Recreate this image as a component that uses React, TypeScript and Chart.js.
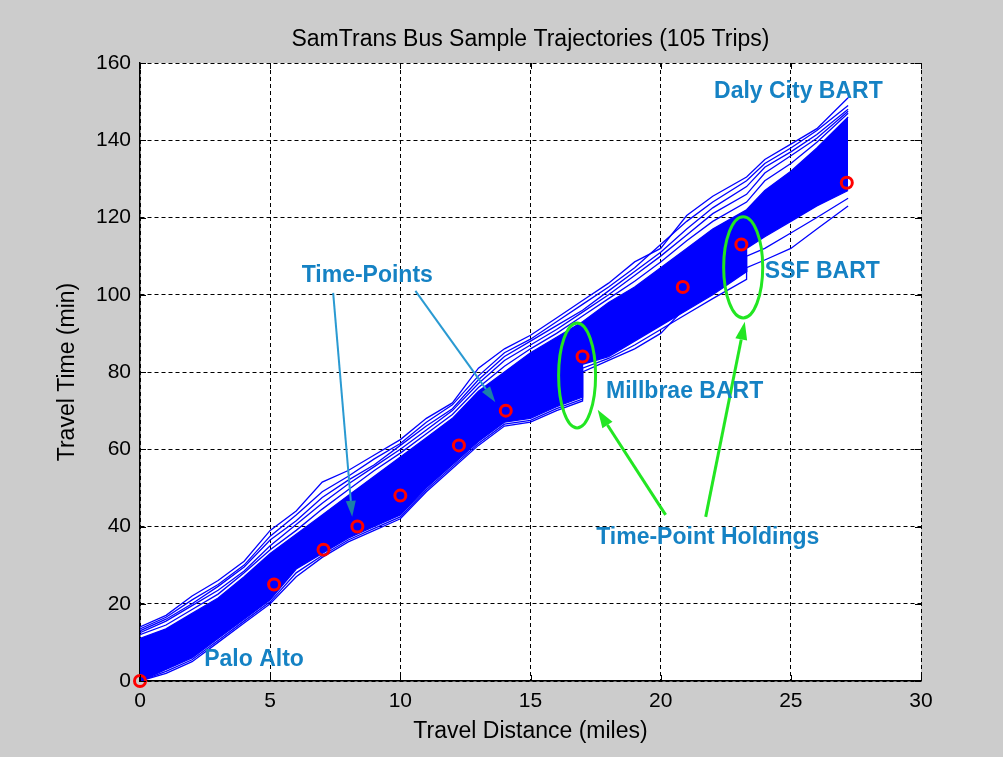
import React, { useEffect, useRef } from "react";
import { Chart, registerables } from "chart.js";

Chart.register(...registerables);

// ---- data ----
const miles = [0, 1, 2, 3, 4, 5, 6, 7, 8, 9, 10, 11, 12, 13, 14, 15, 16, 17, 17, 18, 19, 20, 21, 22, 23.3, 23.3, 24, 25, 26, 27.2];

// dense core of the 105 trajectories (lower / upper envelope)
const coreLower = [0, 3, 6, 11, 16, 21, 29, 33, 37, 40, 43, 50, 56, 62, 67, 68, 71, 73.5, 82, 84, 88, 92, 96, 100, 106, 112, 115, 119, 123, 127];
const coreUpper = [11, 13.5, 17.5, 21.5, 27, 33, 38, 43, 48, 53, 58, 63, 68, 75, 80, 85, 89, 93, 93, 98, 102, 107, 112, 117, 122, 122, 127, 132, 138, 146];

// individual slow trips above the core
const tripSlow1 = [14, 17, 22, 26, 31, 39, 44, 51.5, 54.5, 58.5, 62.5, 68, 72, 81, 86, 89.5, 94, 98.5, 98.5, 103, 108.5, 112, 120.5, 125.5, 130.5, 130.5, 135, 139, 143, 151];
const tripSlow2 = [13.5, 16.5, 21, 25, 30, 37.5, 43, 49, 53, 57.5, 61.5, 67, 71.5, 79, 85, 88.5, 93, 97.5, 97.5, 102, 107, 113, 119, 124, 129.5, 129.5, 134, 138, 142.5, 149];
const tripSlow3 = [13, 16, 20, 24.5, 29.5, 36.5, 41.5, 47.5, 52, 56, 61, 66, 70.5, 78, 84, 88, 92, 96, 96, 101, 106, 111, 117, 122.5, 128, 128, 133, 137, 141.5, 148];
const tripSlow4 = [12.5, 15.5, 19.5, 23.5, 28.5, 35, 40.5, 46, 51, 55.5, 60, 65, 70, 77, 83, 87, 91, 95.5, 95.5, 100, 105, 110, 115.5, 121, 126, 126, 131.5, 136, 140.5, 147.5];
const tripSlow5 = [12, 14.5, 18.5, 22.5, 28, 34, 39, 44.5, 49.5, 54.5, 59, 64, 69, 76, 81.5, 86, 90, 94.5, 94.5, 99, 103.5, 108.5, 114, 119, 124, 124, 129.5, 134, 139.5, 147];

// individual fast trips below the core
const tripFast1 = [0, 2, 5, 10, 15, 20, 27, 32, 36, 39, 42, 49, 55, 61, 66, 67, 70, 72.5, 80, 83, 86, 90, 97, 102, 106, 107, 109, 112, 117, 123];
const tripFast2 = [0, 2.5, 5.5, 10.5, 15.5, 20.5, 28, 32.5, 36.5, 39.5, 42.5, 49.5, 55.5, 61.5, 66.5, 67.5, 70.5, 73, 81, 83.5, 87, 91, 95, 99, 104, 110, 112, 116, 120, 125];

// scheduled time-points (red circles)
const tpMiles = [0, 5.15, 7.05, 8.35, 10.0, 12.25, 14.05, 17.0, 20.85, 23.1, 27.15];
const tpTimes = [0, 25, 34, 40, 48, 61, 70, 84, 102, 113, 129];

// axis ticks
const xTickStep = 5;
const yTickStep = 20;
const xRange = [0, 30];
const yRange = [0, 160];

// annotations (data units)
const labelTexts = ["Time-Points", "Palo Alto", "Daly City BART", "SSF BART", "Millbrae BART", "Time-Point Holdings"];
const labelX = [8.73, 4.38, 25.29, 26.21, 20.92, 21.81];
const labelY = [104.9, 5.4, 152.7, 106.1, 74.8, 37.0];

const blueArrowFromX = [7.42, 10.58];
const blueArrowFromY = [100.5, 101];
const blueArrowToX = [8.15, 13.65];
const blueArrowToY = [42.5, 72.2];

const greenArrowFromX = [20.19, 21.73];
const greenArrowFromY = [43.0, 42.5];
const greenArrowToX = [17.58, 23.23];
const greenArrowToY = [70.2, 93.0];

const ellipseCx = [16.79, 23.17];
const ellipseCy = [79.1, 107.1];
const ellipseRx = [0.71, 0.75];
const ellipseRy = [13.6, 13.1];

const FONT = "'Liberation Sans', Arial, Helvetica, sans-serif";
const BLUE = "#0000ff";
const LABEL_COLOR = "#1582c4";

const pts = (ys: number[]) => miles.map((m, i) => ({ x: m, y: ys[i] }));

function drawArrow(ctx: CanvasRenderingContext2D, x0: number, y0: number, x1: number, y1: number, color: string, headColor: string, width: number, headLen: number, headW: number) {
  const ang = Math.atan2(y1 - y0, x1 - x0);
  const bx = x1 - Math.cos(ang) * headLen;
  const by = y1 - Math.sin(ang) * headLen;
  ctx.save();
  ctx.strokeStyle = color;
  ctx.lineWidth = width;
  ctx.beginPath();
  ctx.moveTo(x0, y0);
  ctx.lineTo(bx, by);
  ctx.stroke();
  ctx.fillStyle = headColor;
  ctx.beginPath();
  ctx.moveTo(x1, y1);
  ctx.lineTo(bx + Math.sin(ang) * headW / 2, by - Math.cos(ang) * headW / 2);
  ctx.lineTo(bx - Math.sin(ang) * headW / 2, by + Math.cos(ang) * headW / 2);
  ctx.closePath();
  ctx.fill();
  ctx.restore();
}

const plotBgPlugin = {
  id: "plotBg",
  beforeDraw(chart: any) {
    const { ctx, chartArea } = chart;
    ctx.save();
    ctx.fillStyle = "#ffffff";
    ctx.fillRect(chartArea.left, chartArea.top, chartArea.right - chartArea.left, chartArea.bottom - chartArea.top);
    ctx.restore();
  },
};

const innerTicksPlugin = {
  id: "innerTicks",
  afterDraw(chart: any) {
    const { ctx, chartArea, scales } = chart;
    const xs = scales.x;
    const ys = scales.y;
    ctx.save();
    ctx.strokeStyle = "#000";
    ctx.lineWidth = 1;
    ctx.beginPath();
    xs.ticks.forEach((t: any) => {
      const px = Math.round(xs.getPixelForValue(t.value)) + 0.5;
      ctx.moveTo(px, chartArea.bottom);
      ctx.lineTo(px, chartArea.bottom - 6);
      ctx.moveTo(px, chartArea.top);
      ctx.lineTo(px, chartArea.top + 6);
    });
    ys.ticks.forEach((t: any) => {
      const py = Math.round(ys.getPixelForValue(t.value)) + 0.5;
      ctx.moveTo(chartArea.left, py);
      ctx.lineTo(chartArea.left + 6, py);
      ctx.moveTo(chartArea.right, py);
      ctx.lineTo(chartArea.right - 6, py);
    });
    ctx.stroke();
    ctx.restore();
  },
};

const annotationPlugin = {
  id: "annotations",
  afterDatasetsDraw(chart: any) {
    const { ctx, scales } = chart;
    const X = (v: number) => scales.x.getPixelForValue(v);
    const Y = (v: number) => scales.y.getPixelForValue(v);
    // green ellipses
    ctx.save();
    ctx.strokeStyle = "#22e622";
    ctx.lineWidth = 3;
    for (let i = 0; i < ellipseCx.length; i++) {
      const cx = X(ellipseCx[i]);
      const cy = Y(ellipseCy[i]);
      const rx = X(ellipseCx[i] + ellipseRx[i]) - cx;
      const ry = cy - Y(ellipseCy[i] + ellipseRy[i]);
      ctx.beginPath();
      ctx.ellipse(cx, cy, rx, ry, 0, 0, Math.PI * 2);
      ctx.stroke();
    }
    ctx.restore();
    // blue arrows
    for (let i = 0; i < blueArrowFromX.length; i++) {
      drawArrow(ctx, X(blueArrowFromX[i]), Y(blueArrowFromY[i]), X(blueArrowToX[i]), Y(blueArrowToY[i]), "#2a9ad2", "#1b7fa8", 2, 16, 10);
    }
    // green arrows
    for (let i = 0; i < greenArrowFromX.length; i++) {
      drawArrow(ctx, X(greenArrowFromX[i]), Y(greenArrowFromY[i]), X(greenArrowToX[i]), Y(greenArrowToY[i]), "#22e622", "#22e622", 3, 18, 12);
    }
    // labels
    ctx.save();
    ctx.fillStyle = LABEL_COLOR;
    ctx.font = `bold 23px ${FONT}`;
    ctx.textAlign = "center";
    ctx.textBaseline = "middle";
    for (let i = 0; i < labelTexts.length; i++) {
      ctx.fillText(labelTexts[i], X(labelX[i]), Y(labelY[i]));
    }
    ctx.restore();
    // chart title
    ctx.save();
    ctx.fillStyle = "#000";
    ctx.font = `23px ${FONT}`;
    ctx.textAlign = "center";
    ctx.textBaseline = "middle";
    const ca = chart.chartArea;
    ctx.fillText("SamTrans Bus Sample Trajectories (105 Trips)", (ca.left + ca.right) / 2, 40);
    ctx.restore();
  },
};

export default function App() {
  const ref = useRef<HTMLCanvasElement>(null);
  useEffect(() => {
    document.body.style.margin = "0";
    const canvas = ref.current;
    if (!canvas) return;
    const line = (ys: number[], extra: any = {}) => ({
      data: pts(ys),
      showLine: true,
      borderColor: BLUE,
      borderWidth: 1.3,
      pointRadius: 0,
      fill: false,
      tension: 0,
      ...extra,
    });
    const chart = new Chart(canvas, {
      type: "scatter",
      data: {
        datasets: [
          line(coreLower),
          line(coreUpper, { fill: "-1", backgroundColor: BLUE }),
          line(tripSlow1),
          line(tripSlow2),
          line(tripSlow3),
          line(tripSlow4),
          line(tripSlow5),
          line(tripFast1),
          line(tripFast2),
          {
            data: tpMiles.map((m, i) => ({ x: m, y: tpTimes[i] })),
            showLine: false,
            order: -1,
            clip: false,
            pointRadius: 5.5,
            pointBorderWidth: 3,
            pointBorderColor: "#ff0000",
            pointBackgroundColor: "rgba(0,0,0,0)",
          } as any,
        ],
      },
      options: {
        responsive: false,
        animation: false,
        devicePixelRatio: 1,
        layout: { padding: { top: 63, right: 82, bottom: 0, left: 0 } },
        plugins: {
          legend: { display: false },
          tooltip: { enabled: false },
          title: { display: false },
        },
        scales: {
          x: {
            type: "linear",
            min: xRange[0],
            max: xRange[1],
            ticks: { stepSize: xTickStep, color: "#000", font: { size: 21, family: FONT }, padding: 8 },
            grid: { color: "#000", lineWidth: 1, drawTicks: false },
            border: { display: true, color: "#000", width: 1.5, dash: [4, 3] },
            title: { display: true, text: "Travel Distance (miles)", color: "#000", font: { size: 23, family: FONT }, padding: { top: 0, bottom: 12 } },
            afterFit: (s: any) => {
              s.height = 76;
            },
          },
          y: {
            type: "linear",
            min: yRange[0],
            max: yRange[1],
            ticks: { stepSize: yTickStep, color: "#000", font: { size: 21, family: FONT }, padding: 9 },
            grid: { color: "#000", lineWidth: 1, drawTicks: false },
            border: { display: true, color: "#000", width: 1.5, dash: [4, 3] },
            title: { display: true, text: "Travel Time (min)", color: "#000", font: { size: 23, family: FONT }, padding: { top: 54, bottom: 0 } },
            afterFit: (s: any) => {
              s.width = 140;
            },
          },
        },
      } as any,
      plugins: [plotBgPlugin, innerTicksPlugin, annotationPlugin],
    });
    return () => chart.destroy();
  }, []);
  return (
    <div style={{ width: 1003, height: 757, background: "#cccccc" }}>
      <canvas ref={ref} width={1003} height={757} style={{ display: "block" }} />
    </div>
  );
}
